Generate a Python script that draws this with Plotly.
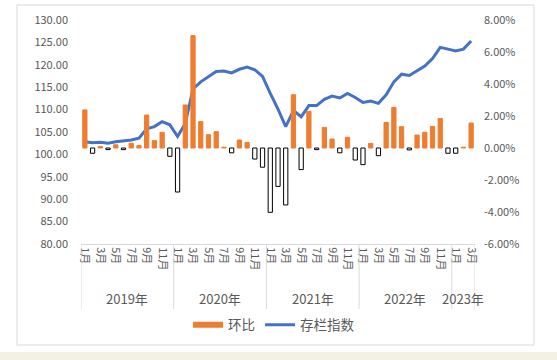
import plotly.graph_objects as go

# ---------------- data ----------------
years = ["2019年", "2020年", "2021年", "2022年", "2023年"]
months_per_year = [12, 12, 12, 12, 3]

# 环比 (%), monthly, Jan 2019 - Mar 2023
huanbi_2019 = [2.38, -0.33, 0.10, -0.10, 0.20, -0.10, 0.30, 0.15, 2.06, 0.46, 0.98, -0.52]
huanbi_2020 = [-2.75, 2.69, 7.02, 1.65, 0.83, 1.02, 0.05, -0.30, 0.50, 0.35, -0.69, -1.20]
huanbi_2021 = [-4.02, -2.40, -3.56, 3.33, -1.35, 2.29, -0.10, 1.29, 0.56, -0.30, 0.67, -0.75]
huanbi_2022 = [-1.04, 0.29, -0.48, 1.60, 2.54, 1.33, -0.12, 0.81, 0.98, 1.35, 1.85, -0.33]
huanbi_2023 = [-0.33, 0.05, 1.56]

# 存栏指数, monthly
index_2019 = [102.8, 102.6, 102.7, 102.5, 102.8, 103.0, 103.2, 103.6, 105.7, 106.2, 107.3, 106.6]
index_2020 = [104.0, 106.9, 114.6, 116.2, 117.3, 118.5, 118.6, 118.2, 119.0, 119.5, 118.9, 117.4]
index_2021 = [113.6, 110.1, 106.2, 109.8, 108.4, 110.9, 110.9, 112.3, 113.0, 112.6, 113.6, 112.7]
index_2022 = [111.6, 111.9, 111.4, 113.3, 116.2, 117.9, 117.6, 118.6, 119.7, 121.4, 123.9, 123.5]
index_2023 = [123.1, 123.5, 125.3]

month_labels_full = ["1月", "3月", "5月", "7月", "9月", "11月"]
month_labels_2023 = ["1月", "3月"]

left_ticks = [80, 85, 90, 95, 100, 105, 110, 115, 120, 125, 130]
left_ticktext = ["80.00", "85.00", "90.00", "95.00", "100.00", "105.00",
                 "110.00", "115.00", "120.00", "125.00", "130.00"]
right_ticks = [-6, -4, -2, 0, 2, 4, 6, 8]
right_ticktext = ["-6.00%", "-4.00%", "-2.00%", "0.00%", "2.00%", "4.00%", "6.00%", "8.00%"]

huanbi = huanbi_2019 + huanbi_2020 + huanbi_2021 + huanbi_2022 + huanbi_2023
index_vals = index_2019 + index_2020 + index_2021 + index_2022 + index_2023
x = list(range(len(huanbi)))

# tick positions for odd months
tickvals, ticktext = [], []
start = 0
for n, yr in zip(months_per_year, years):
    labels = month_labels_full if n == 12 else month_labels_2023
    for k, lab in enumerate(labels):
        tickvals.append(start + 2 * k)
        ticktext.append(lab)
    start += n

ORANGE = "#ED7D31"
BLUE = "#4472C4"
GRAY = "#595959"
FONT = "Noto Sans CJK SC, Noto Sans, sans-serif"

fig = go.Figure()

fig.add_trace(go.Bar(
    x=x, y=huanbi, yaxis="y2", name="环比", showlegend=False,
    marker=dict(
        color=[ORANGE if v >= 0 else "white" for v in huanbi],
        line=dict(color=[ORANGE if v >= 0 else "black" for v in huanbi], width=1),
    ),
    width=0.55,
))
fig.add_trace(go.Scatter(
    x=x, y=index_vals, yaxis="y", mode="lines", name="存栏指数", showlegend=False,
    line=dict(color=BLUE, width=3),
))
# legend entries
fig.add_trace(go.Scatter(x=[None], y=[None], mode="lines", name="环比",
                         line=dict(color=ORANGE, width=6)))
fig.add_trace(go.Scatter(x=[None], y=[None], mode="lines", name="存栏指数",
                         line=dict(color=BLUE, width=3)))

PL, PR, PT, PB = 81, 475, 20, 244
W, H = 557, 360
pw, ph = PR - PL, PB - PT

def px_x(p):
    return (p - PL) / pw

def px_y(p):
    return (PB - p) / ph

shapes = []
# outer frame
shapes.append(dict(type="rect", xref="paper", yref="paper",
                   x0=px_x(17), x1=px_x(534), y0=px_y(345), y1=px_y(5),
                   line=dict(color="#D9D9D9", width=1), layer="below"))
# bottom beige strip
shapes.append(dict(type="rect", xref="paper", yref="paper",
                   x0=px_x(0), x1=px_x(W), y0=px_y(360), y1=px_y(352),
                   line=dict(width=0), fillcolor="#F3F1E4", layer="below"))
# year dividers
bounds = [-0.5]
acc = 0
for n in months_per_year:
    acc += n
    bounds.append(acc - 0.5)
for b in bounds:
    shapes.append(dict(type="line", xref="x", yref="paper",
                       x0=b, x1=b, y0=0, y1=px_y(309),
                       line=dict(color="#D9D9D9", width=1)))

annotations = []
acc = 0
for n, yr in zip(months_per_year, years):
    center = acc + (n - 1) / 2
    annotations.append(dict(x=center, y=px_y(298), xref="x", yref="paper",
                            text=yr, showarrow=False,
                            font=dict(size=13, color=GRAY, family=FONT),
                            xanchor="center", yanchor="middle"))
    acc += n

fig.update_layout(
    width=W, height=H,
    margin=dict(l=PL, r=W - PR, t=PT, b=H - PB),
    paper_bgcolor="white", plot_bgcolor="white",
    font=dict(family=FONT, color=GRAY, size=11),
    bargap=0.4,
    xaxis=dict(range=[-0.5, len(x) - 0.5], tickmode="array", tickvals=tickvals,
               ticktext=ticktext, tickangle=90, showgrid=False, zeroline=False,
               showline=True, linecolor="#D9D9D9", linewidth=1, ticks="",
               automargin=False, tickfont=dict(size=11, color=GRAY)),
    yaxis=dict(range=[80, 130], tickmode="array", tickvals=left_ticks,
               ticktext=left_ticktext, showgrid=False, zeroline=False,
               showline=False, ticks="", automargin=False, ticklabelstandoff=12,
               tickfont=dict(size=11, color=GRAY)),
    yaxis2=dict(range=[-6, 8], overlaying="y", side="right", tickmode="array",
                tickvals=right_ticks, ticktext=right_ticktext, showgrid=False,
                zeroline=False, showline=False, ticks="", automargin=False,
                ticklabelstandoff=8, tickfont=dict(size=11, color=GRAY)),
    legend=dict(orientation="h", x=0.49, xanchor="center", y=px_y(325),
                yanchor="middle", font=dict(size=13.5, color=GRAY, family=FONT),
                itemwidth=30),
    shapes=shapes,
    annotations=annotations,
)

fig.write_html("out.html", config={"displayModeBar": False},
               post_script="document.body.style.margin='0';")
